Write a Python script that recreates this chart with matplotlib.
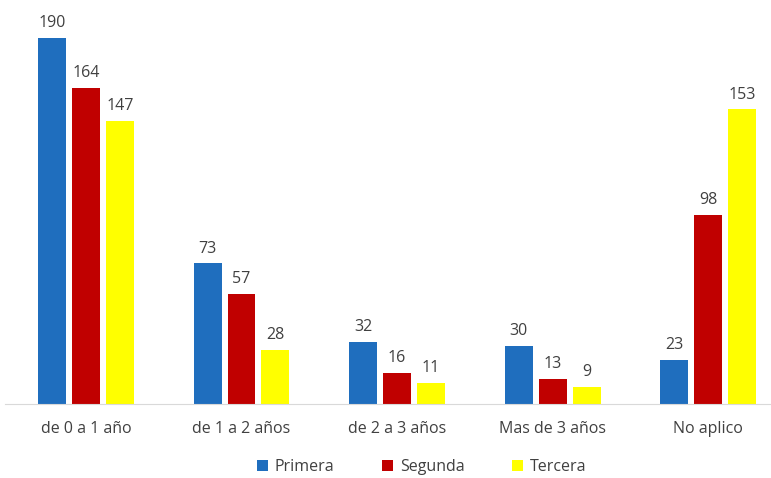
import matplotlib.pyplot as plt
import numpy as np

categorias = ["de 0 a 1 año", "de 1 a 2 años", "de 2 a 3 años", "Mas de 3 años", "No aplico"]
series = ["Primera", "Segunda", "Tercera"]
primera = [190, 73, 32, 30, 23]
segunda = [164, 57, 16, 13, 98]
tercera = [147, 28, 11, 9, 153]

colores = ["#1F6EBE", "#C00000", "#FFFF00"]
gris = "#404040"

plt.rcParams['font.family'] = ['Open Sans', 'DejaVu Sans']

fig = plt.figure(figsize=(7.71, 4.78), dpi=100)
ax = fig.add_axes([0, 0.1548, 1, 0.8055])

x = np.arange(len(categorias))
ancho = 0.18
paso = 0.2186
for k, (nombre, vals) in enumerate(zip(series, [primera, segunda, tercera])):
    pos = x + (k - 1) * paso
    barras = ax.bar(pos, vals, ancho, color=colores[k], label=nombre)
    for b, v in zip(barras, vals):
        ax.annotate(str(v), (b.get_x() + b.get_width() / 2, v),
                    xytext=(0, 5), textcoords="offset points",
                    ha="center", va="bottom", fontsize=11.5, color=gris)

ax.set_xlim(-0.553, 4.405)
ax.set_ylim(0, 200)
ax.set_xticks(x)
ax.set_xticklabels(categorias, fontsize=11.5, color=gris)
ax.tick_params(axis="x", length=0, pad=12)
ax.set_yticks([])
for s in ["top", "right", "left"]:
    ax.spines[s].set_visible(False)
ax.spines["bottom"].set_color("#D9D9D9")
ax.spines["bottom"].set_bounds(-0.52, 4.405)

leg = fig.legend(loc="center", bbox_to_anchor=(0.547, 0.023), ncol=3, frameon=False,
                 fontsize=11.5, handlelength=0.7, handleheight=0.7,
                 handletextpad=0.4, columnspacing=3.0)
for t in leg.get_texts():
    t.set_color(gris)

fig.savefig("out.png", dpi=100)
